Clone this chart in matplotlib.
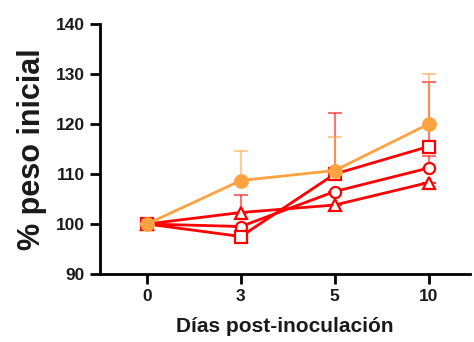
import numpy as np
import matplotlib.pyplot as plt

# Days post-inoculation (categorical positions)
days = ['0', '3', '5', '10']

# % initial weight per group (mean and upper error)
orange_mean = [100, 108.7, 110.7, 120.0]
orange_err = [0, 6.0, 6.8, 10.0]

square_mean = [100, 97.5, 110.0, 115.5]
square_err = [0, 0, 12.2, 13.0]

circle_mean = [100, 99.5, 106.5, 111.2]
circle_err = [0, 0, 0, 2.5]

triangle_mean = [100, 102.3, 103.8, 108.3]
triangle_err = [0, 3.5, 0, 0]

ORANGE = '#FFA23F'
RED = '#FF0000'

fig = plt.figure(figsize=(4.74, 3.42), dpi=100)
ax = fig.add_axes([100/474, 1-274/342, 370/474, 250/342])
x = np.arange(len(days))

def draw(mean, err, color, marker, filled, ms, z):
    ax.errorbar(x, mean, yerr=[np.zeros(len(err)), err], fmt='none',
                ecolor=color, elinewidth=1.5, capsize=5, capthick=1.5,
                alpha=0.55, zorder=z)
    ax.plot(x, mean, color=color, lw=2, marker=marker, ms=ms,
            mfc=color if filled else 'white', mec=color, mew=1.6, zorder=z + 1)

draw(triangle_mean, triangle_err, RED, '^', False, 8, 2)
draw(circle_mean, circle_err, RED, 'o', False, 8, 2)
draw(square_mean, square_err, RED, 's', False, 8.5, 2)
draw(orange_mean, orange_err, ORANGE, 'o', True, 9, 5)

ax.set_xlim(-0.5, 3.44)
ax.set_ylim(90, 140)
ax.set_yticks(np.arange(90, 141, 10))
ax.set_xticks(x)
ax.set_xticklabels(days)

for s in ['top', 'right']:
    ax.spines[s].set_visible(False)
for s in ['left', 'bottom']:
    ax.spines[s].set_linewidth(2)
ax.tick_params(width=2, length=7, labelsize=12.5, pad=4, labelcolor='#1a1a1a')
for lab in ax.get_xticklabels() + ax.get_yticklabels():
    lab.set_fontweight('bold')
    lab.set_fontfamily('Liberation Sans')

ax.set_xlabel('Días post-inoculación', fontsize=15, fontweight='bold',
              family='Liberation Sans', labelpad=9, color='#1a1a1a')
ax.set_ylabel('% peso inicial', fontsize=22, fontweight='bold',
              family='Liberation Sans', labelpad=6, color='#1a1a1a')

fig.savefig('out.png', dpi=100)
